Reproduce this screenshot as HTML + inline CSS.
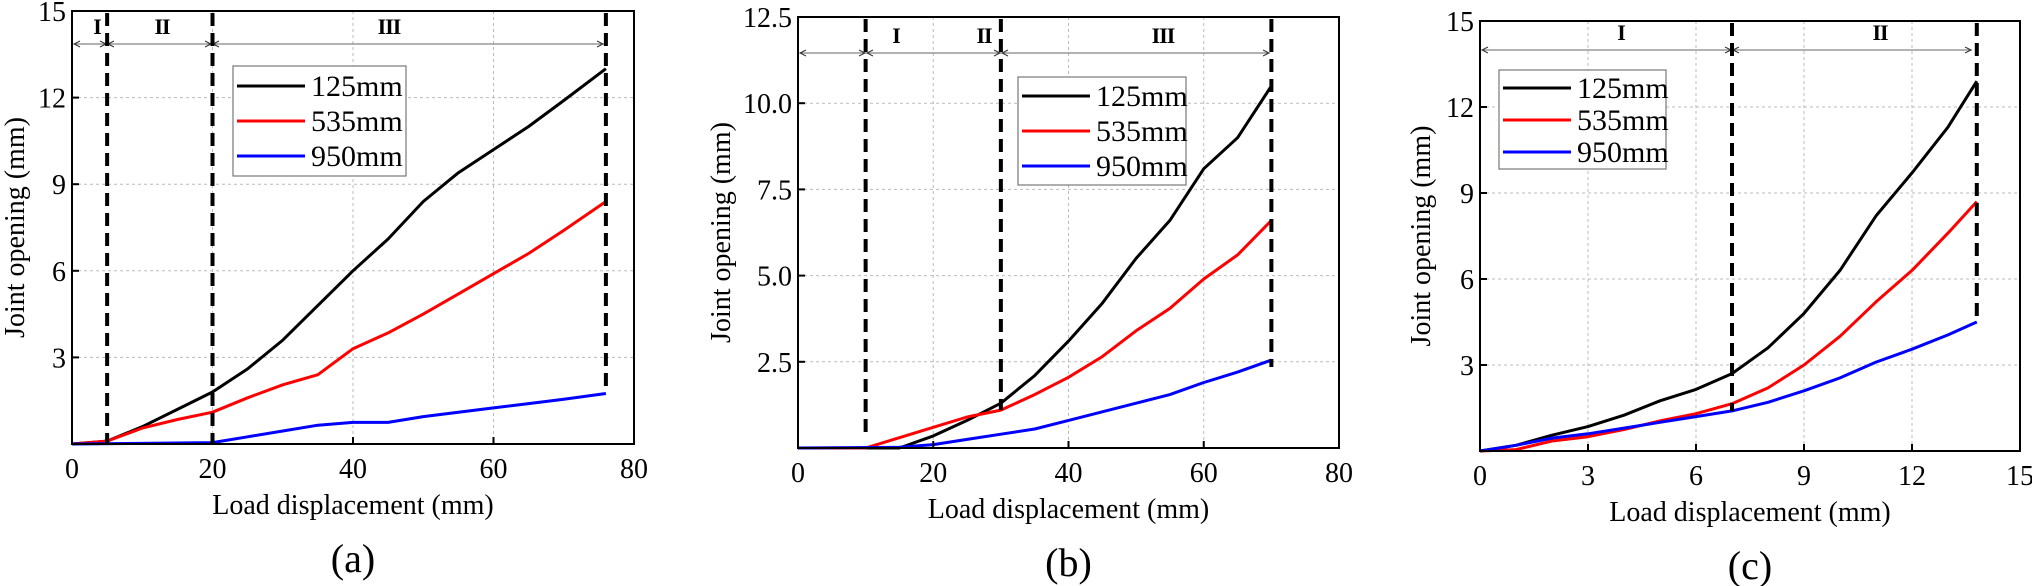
<!DOCTYPE html>
<html><head><meta charset="utf-8"><style>
html,body{margin:0;padding:0;background:#fff;}
svg{display:block;}
text{font-family:"Liberation Serif","DejaVu Serif",serif;}
</style></head><body>
<svg id="s" width="2032" height="586" viewBox="0 0 2032 586" xmlns="http://www.w3.org/2000/svg" font-family="Liberation Serif, serif"></svg>
<script>
const S=document.getElementById('s');let h='';
const F='font-family="Liberation Serif, serif"';
function P(c){
 const {L,R,T,B,xmax,ymax,xt,yt,ylab,dash,arrowY,regions,series,leg,tag,ytitleX}=c;
 const X=v=>L+(R-L)*v/xmax, Y=v=>B-(B-T)*v/ymax;
 xt.forEach(v=>{if(v>0&&v<xmax)h+=`<line x1="${X(v)}" y1="${T}" x2="${X(v)}" y2="${B}" stroke="#bbb" stroke-width="1" stroke-dasharray="3,3"/>`;});
 yt.forEach(v=>{if(v>0&&v<ymax)h+=`<line x1="${L}" y1="${Y(v)}" x2="${R}" y2="${Y(v)}" stroke="#bbb" stroke-width="1" stroke-dasharray="3,3"/>`;});
 h+=`<line x1="${L+2}" y1="${arrowY}" x2="${regions.end}" y2="${arrowY}" stroke="#666" stroke-width="1"/>`;
 regions.marks.forEach(m=>{h+=`<path d="M${m-7},${arrowY-3}L${m-1},${arrowY}L${m-7},${arrowY+3}M${m+7},${arrowY-3}L${m+1},${arrowY}L${m+7},${arrowY+3}" stroke="#333" fill="none" stroke-width="1"/>`;});
 h+=`<path d="M${L+8},${arrowY-3}L${L+2},${arrowY}L${L+8},${arrowY+3}" stroke="#333" fill="none"/>`;
 h+=`<path d="M${regions.end-7},${arrowY-3}L${regions.end-1},${arrowY}L${regions.end-7},${arrowY+3}" stroke="#333" fill="none"/>`;
 regions.labels.forEach(l=>{h+=`<text ${F} x="${l[0]}" y="${arrowY-10}" font-size="22" font-weight="bold" text-anchor="middle" letter-spacing="-1">${l[1]}</text>`;});
 series.forEach(s=>{h+=`<polyline fill="none" stroke="${s[0]}" stroke-width="3" stroke-linejoin="round" points="${s[1].map(p=>X(p[0]).toFixed(1)+','+Y(p[1]).toFixed(1)).join(' ')}"/>`;});
 dash.forEach(d=>{h+=`<line x1="${X(d[0])}" y1="${T+2}" x2="${X(d[0])}" y2="${d[1]}" stroke="#000" stroke-width="4" stroke-dasharray="13,7"/>`;});
 h+=`<rect x="${L}" y="${T}" width="${R-L}" height="${B-T}" fill="none" stroke="#000" stroke-width="2"/>`;
 xt.forEach(v=>{h+=`<line x1="${X(v)}" y1="${B}" x2="${X(v)}" y2="${B-7}" stroke="#000" stroke-width="2"/><text ${F} x="${X(v)}" y="${B+34}" font-size="28" text-anchor="middle">${v}</text>`;});
 yt.forEach((v,i)=>{h+=`<line x1="${L}" y1="${Y(v)}" x2="${L+7}" y2="${Y(v)}" stroke="#000" stroke-width="2"/>`;if(ylab[i]!=='')h+=`<text ${F} x="${L-6}" y="${Y(v)+10}" font-size="28" text-anchor="end">${ylab[i]}</text>`;});
 h+=`<rect x="${leg.x}" y="${leg.y}" width="${leg.w}" height="${leg.h}" fill="#fff" stroke="#777" stroke-width="1.2"/>`;
 ['125mm','535mm','950mm'].forEach((t,i)=>{const yy=leg.y+leg.s0+i*leg.sp;h+=`<line x1="${leg.x+4}" y1="${yy}" x2="${leg.x+72}" y2="${yy}" stroke="${['#000','#f00','#00f'][i]}" stroke-width="3"/><text ${F} x="${leg.x+78}" y="${yy+10}" font-size="30">${t}</text>`;});
 const cx=(L+R)/2;
 h+=`<text ${F} x="${cx}" y="${B+70}" font-size="28" text-anchor="middle">Load displacement (mm)</text>`;
 h+=`<text ${F} x="${cx}" y="${B+128}" font-size="40" text-anchor="middle">${tag}</text>`;
 const cy=(T+B)/2;
 h+=`<text ${F} transform="translate(${ytitleX},${cy}) rotate(-90)" font-size="28" text-anchor="middle">Joint opening (mm)</text>`;
}
P({L:72,R:634,T:11,B:444,xmax:80,ymax:15,xt:[0,20,40,60,80],yt:[3,6,9,12,15],ylab:['3','6','9','12','15'],ytitleX:24,
 dash:[[5,444],[20,444],[76,393]],arrowY:44,
 regions:{end:604,marks:[107,212],labels:[[97,'I'],[162,'II'],[389,'III']]},
 series:[['#000',[[0,0],[5,0.1],[10,0.6],[15,1.2],[20,1.8],[25,2.6],[30,3.6],[35,4.8],[40,6.0],[45,7.1],[50,8.4],[55,9.4],[60,10.2],[65,11.0],[70,11.9],[76,13.0]]],
 ['#f00',[[0,0],[5,0.1],[10,0.55],[15,0.85],[20,1.1],[25,1.6],[30,2.05],[35,2.4],[40,3.3],[45,3.85],[50,4.5],[55,5.2],[60,5.9],[65,6.6],[70,7.4],[76,8.4]]],
 ['#00f',[[0,0],[20,0.05],[25,0.25],[30,0.45],[35,0.65],[40,0.75],[45,0.75],[50,0.95],[55,1.1],[60,1.25],[65,1.4],[70,1.55],[76,1.75]]]],
 leg:{x:233,y:66,w:173,h:110,s0:20,sp:35},tag:'(a)'});
P({L:798,R:1339,T:17,B:448,xmax:80,ymax:12.5,xt:[0,20,40,60,80],yt:[2.5,5,7.5,10,12.5],ylab:['2.5','5.0','7.5','10.0','12.5'],ytitleX:730,
 dash:[[10,435],[30,410],[70,367]],arrowY:53,
 regions:{end:1270,marks:[866,1001],labels:[[896,'I'],[984,'II'],[1163,'III']]},
 series:[['#000',[[0,0],[15,0],[20,0.35],[25,0.8],[30,1.3],[35,2.1],[40,3.1],[45,4.2],[50,5.5],[55,6.6],[60,8.1],[65,9.0],[70,10.5]]],
 ['#f00',[[0,0],[10,0],[15,0.3],[20,0.6],[25,0.9],[30,1.1],[35,1.55],[40,2.05],[45,2.65],[50,3.4],[55,4.05],[60,4.9],[65,5.6],[70,6.6]]],
 ['#00f',[[0,0],[15,0.02],[20,0.1],[25,0.25],[30,0.4],[35,0.55],[40,0.8],[45,1.05],[50,1.3],[55,1.55],[60,1.9],[65,2.2],[70,2.55]]]],
 leg:{x:1018,y:77,w:168,h:108,s0:19,sp:35},tag:'(b)'});
P({L:1480,R:2020,T:21,B:451,xmax:15,ymax:15,xt:[0,3,6,9,12,15],yt:[3,6,9,12,15],ylab:['3','6','9','12','15'],ytitleX:1430,
 dash:[[7,411],[13.8,322]],arrowY:50,
 regions:{end:1972,marks:[1732],labels:[[1621,'I'],[1880,'II']]},
 series:[['#000',[[0,0],[1,0.2],[2,0.55],[3,0.85],[4,1.25],[5,1.75],[6,2.15],[7,2.7],[8,3.6],[9,4.8],[10,6.3],[11,8.2],[12,9.7],[13,11.3],[13.8,12.9]]],
 ['#f00',[[0,0],[1,0.05],[2,0.35],[3,0.5],[4,0.75],[5,1.05],[6,1.3],[7,1.65],[8,2.2],[9,3.0],[10,4.0],[11,5.2],[12,6.3],[13,7.6],[13.8,8.7]]],
 ['#00f',[[0,0],[1,0.2],[2,0.45],[3,0.6],[4,0.8],[5,1.0],[6,1.2],[7,1.4],[8,1.7],[9,2.1],[10,2.55],[11,3.1],[12,3.55],[13,4.05],[13.8,4.5]]]],
 leg:{x:1499,y:70,w:167,h:99,s0:18,sp:32},tag:'(c)'});
S.innerHTML=h;
</script>
</body></html>
